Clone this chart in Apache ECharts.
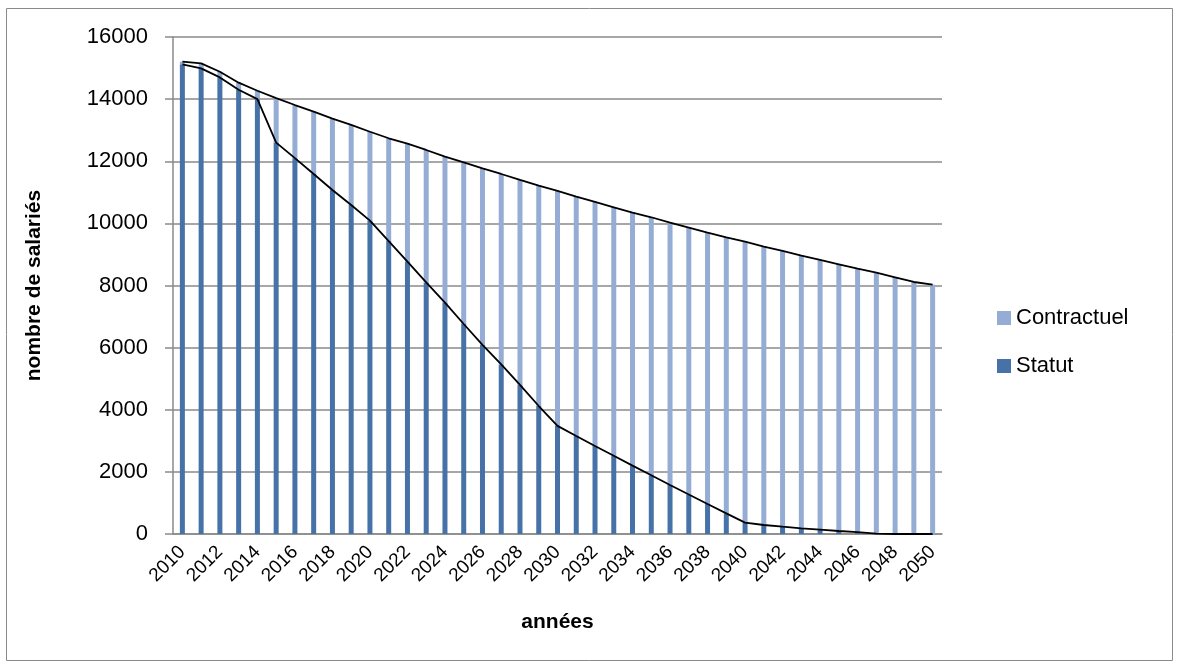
<!DOCTYPE html>
<html>
<head>
<meta charset="utf-8">
<script src="https://cdn.jsdelivr.net/npm/echarts@6/dist/echarts.min.js"></script>
<style>
html,body{margin:0;padding:0;background:#fff;}
#chart{width:1179px;height:666px;}
</style>
</head>
<body>
<div id="chart"></div>
<script>
const years = [];
for (let y = 2010; y <= 2050; y++) years.push(String(y));

const statut = [15120, 14990, 14700, 14300, 14000, 12600, 12100, 11590, 11075, 10590,
  10090, 9430, 8770, 8100, 7450, 6760, 6090, 5460, 4800, 4120,
  3480, 3155, 2835, 2520, 2200, 1890, 1578, 1270, 966, 665,
  365, 290, 236, 183, 140, 97, 60, 15, 0, 0, 0];

const total = [15206, 15150, 14880, 14530, 14270, 14030, 13810, 13600, 13370, 13170,
  12950, 12740, 12570, 12363, 12148, 11967, 11774, 11590, 11397, 11214,
  11043, 10860, 10689, 10518, 10345, 10197, 10023, 9862, 9701, 9552,
  9411, 9250, 9111, 8960, 8822, 8683, 8542, 8413, 8265, 8113, 8026];

const contractuel = total.map((t, i) => t - statut[i]);

const FONT = 'Liberation Sans';
const chart = echarts.init(document.getElementById('chart'));
chart.setOption({
  animation: false,
  textStyle: { fontFamily: FONT },
  graphic: [{
    type: 'rect',
    shape: { x: 6.5, y: 8.5, width: 1166, height: 652 },
    style: { fill: 'none', stroke: '#8a8a8a', lineWidth: 1 },
    silent: true
  }],
  grid: { left: 173, right: 237, top: 37, bottom: 132, containLabel: false },
  legend: {
    orient: 'vertical',
    left: 992,
    top: 302,
    itemWidth: 14,
    itemHeight: 14,
    itemGap: 26,
    icon: 'rect',
    data: ['Contractuel', 'Statut'],
    textStyle: { fontSize: 22, color: '#000', fontFamily: FONT }
  },
  xAxis: {
    type: 'category',
    data: years,
    name: 'années',
    nameLocation: 'middle',
    nameGap: 78,
    nameTextStyle: { fontSize: 21, fontWeight: 'bold', color: '#000', fontFamily: FONT },
    axisLine: { lineStyle: { color: '#8a8a8a', width: 1.5 } },
    axisTick: { show: false },
    axisLabel: { interval: 1, rotate: 45, fontSize: 19, color: '#000', margin: 15, fontFamily: FONT }
  },
  yAxis: {
    type: 'value',
    min: 0, max: 16000, interval: 2000,
    name: 'nombre de salariés',
    nameLocation: 'middle',
    nameGap: 128,
    nameRotate: 90,
    nameTextStyle: { fontSize: 21, fontWeight: 'bold', color: '#000', fontFamily: FONT },
    axisLine: { show: true, lineStyle: { color: '#8a8a8a', width: 1.5 } },
    axisTick: { show: true, length: 8, lineStyle: { color: '#8a8a8a', width: 1.5 } },
    axisLabel: { fontSize: 22, color: '#000', margin: 25, fontFamily: FONT,
      formatter: v => String(v) },
    splitLine: { lineStyle: { color: '#8a8a8a', width: 1.5 } }
  },
  series: [
    { name: 'Statut', type: 'bar', stack: 'a', barWidth: 5, data: statut,
      itemStyle: { color: '#4672a8' } },
    { name: 'Contractuel', type: 'bar', stack: 'a', barWidth: 5, data: contractuel,
      itemStyle: { color: '#95add4' } },
    { name: 'ligneStatut', type: 'line', data: statut, symbol: 'none', z: 5,
      lineStyle: { color: '#000', width: 1.8 } },
    { name: 'ligneTotal', type: 'line', data: total, symbol: 'none', z: 5,
      lineStyle: { color: '#000', width: 1.8 } }
  ]
});
</script>
</body>
</html>
